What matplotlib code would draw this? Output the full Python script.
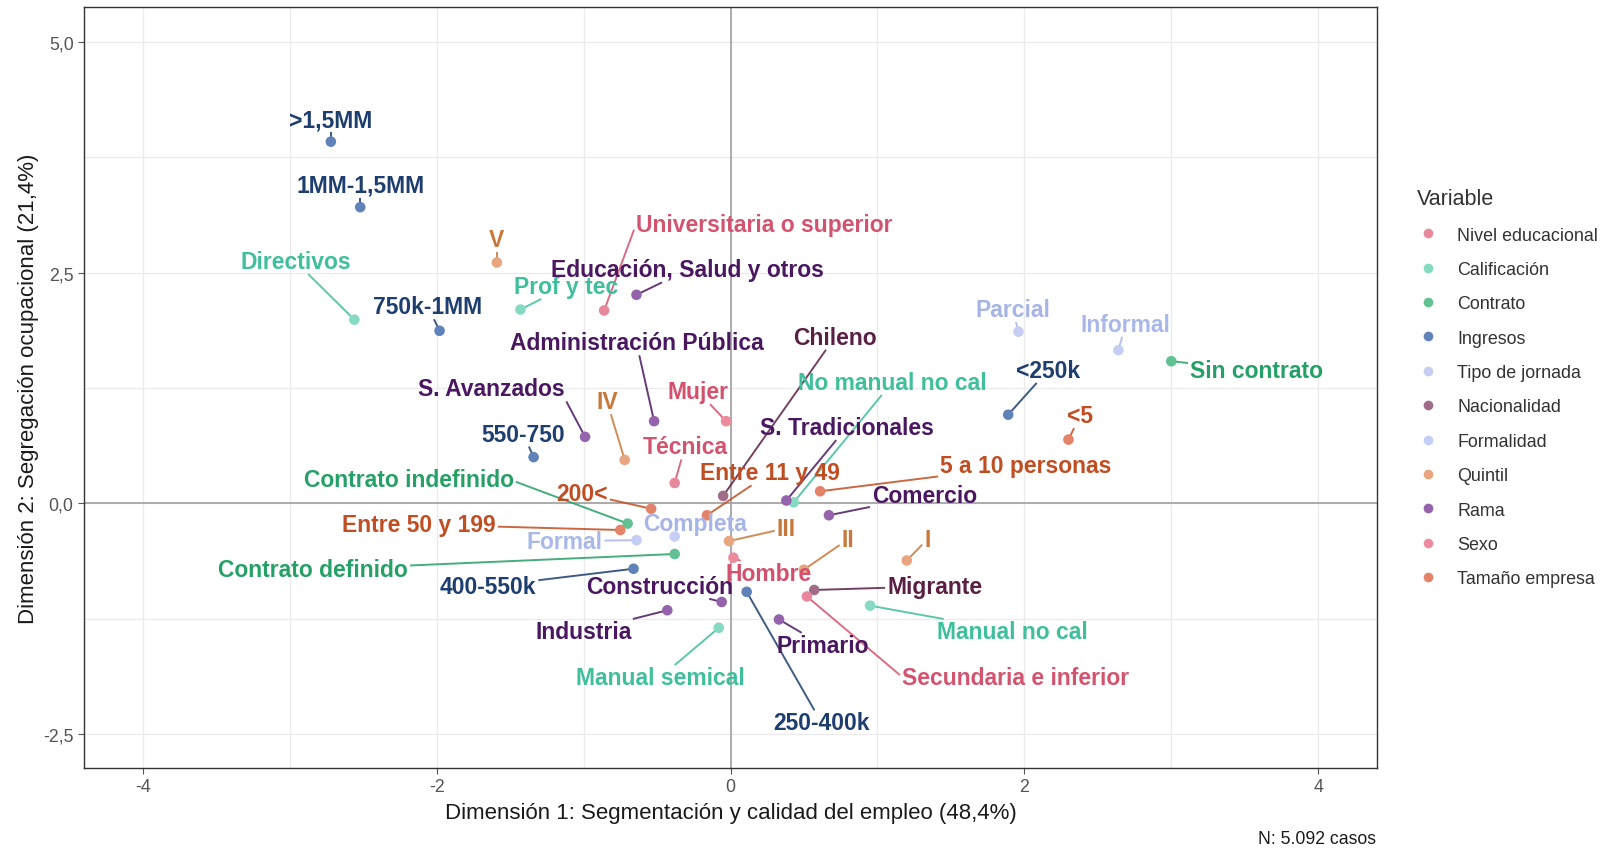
import numpy as np
import matplotlib
matplotlib.use("Agg")
import matplotlib.pyplot as plt
from matplotlib.ticker import MultipleLocator, FuncFormatter
from matplotlib.lines import Line2D

plt.rcParams['font.family'] = ['Liberation Sans', 'DejaVu Sans']

# categories of the legend, in order
groups = ["Nivel educacional", "Calificación", "Contrato", "Ingresos", "Tipo de jornada",
          "Nacionalidad", "Formalidad", "Quintil", "Rama", "Sexo", "Tamaño empresa"]

# category labels, their variable, and the coordinates on the two dimensions
labels = [">1,5MM", "1MM-1,5MM", "750k-1MM", "550-750", "400-550k", "250-400k", "<250k",
          "Directivos", "Prof y tec", "No manual no cal", "Manual no cal", "Manual semical",
          "Sin contrato", "Contrato indefinido", "Contrato definido",
          "Parcial", "Completa",
          "Informal", "Formal",
          "Chileno", "Migrante",
          "V", "IV", "III", "II", "I",
          "Educación, Salud y otros", "Administración Pública", "S. Avanzados",
          "S. Tradicionales", "Comercio", "Construcción", "Industria", "Primario",
          "Universitaria o superior", "Técnica", "Secundaria e inferior",
          "Mujer", "Hombre",
          "<5", "5 a 10 personas", "Entre 11 y 49", "200<", "Entre 50 y 199"]
variable = (["Ingresos"] * 7 + ["Calificación"] * 5 + ["Contrato"] * 3
            + ["Tipo de jornada"] * 2 + ["Formalidad"] * 2 + ["Nacionalidad"] * 2
            + ["Quintil"] * 5 + ["Rama"] * 8 + ["Nivel educacional"] * 3
            + ["Sexo"] * 2 + ["Tamaño empresa"] * 5)
dim1 = [-2.72, -2.52, -1.98, -1.34, -0.66, 0.11, 1.89,
        -2.56, -1.43, 0.43, 0.95, -0.08,
        3.00, -0.70, -0.38,
        1.96, -0.38,
        2.64, -0.64,
        -0.05, 0.57,
        -1.59, -0.72, -0.01, 0.50, 1.20,
        -0.64, -0.52, -0.99, 0.38, 0.67, -0.06, -0.43, 0.33,
        -0.86, -0.38, 0.52,
        -0.03, 0.02,
        2.30, 0.61, -0.16, -0.54, -0.75]
dim2 = [3.92, 3.21, 1.87, 0.50, -0.71, -0.96, 0.96,
        1.99, 2.10, 0.01, -1.11, -1.35,
        1.54, -0.22, -0.55,
        1.86, -0.36,
        1.66, -0.40,
        0.08, -0.94,
        2.61, 0.47, -0.41, -0.72, -0.62,
        2.26, 0.89, 0.72, 0.03, -0.13, -1.07, -1.16, -1.26,
        2.09, 0.22, -1.01,
        0.89, -0.59,
        0.69, 0.13, -0.13, -0.06, -0.29]

# where the repelled labels sit (data coords)
label_pos = [(-2.72, 4.16), (-2.52, 3.45), (-2.06, 2.13), (-1.41, 0.75), (-1.65, -0.90),
             (0.62, -2.38), (2.16, 1.44),
             (-2.96, 2.62), (-1.12, 2.35), (1.10, 1.31), (1.92, -1.39), (-0.48, -1.89),
             (3.58, 1.44), (-2.19, 0.26), (-2.84, -0.72),
             (1.92, 2.10), (-0.24, -0.22),
             (2.69, 1.94), (-1.13, -0.41),
             (0.71, 1.80), (1.39, -0.90),
             (-1.59, 2.86), (-0.84, 1.10), (0.38, -0.27), (0.80, -0.39), (1.34, -0.39),
             (-0.29, 2.53), (-0.64, 1.74), (-1.63, 1.24), (0.79, 0.82), (1.32, 0.08),
             (-0.48, -0.90), (-1.00, -1.39), (0.63, -1.54),
             (0.23, 3.02), (-0.31, 0.61), (1.94, -1.89),
             (-0.22, 1.21), (0.26, -0.76),
             (2.38, 0.95), (2.01, 0.41), (0.27, 0.33), (-1.01, 0.11), (-2.12, -0.23)]

# labels whose segment joins a side/corner instead of heading to the centre
attach = {"Universitaria o superior": (-1, -0.4), "S. Avanzados": (1, -1),
          "Contrato indefinido": (1, -0.2), "Secundaria e inferior": (-1, 0.2)}

point_col = {"Nivel educacional": "#e8889c", "Calificación": "#86d9c2", "Contrato": "#62c193",
             "Ingresos": "#5f82b8", "Tipo de jornada": "#c6cff1", "Nacionalidad": "#a06c88",
             "Formalidad": "#c3cef3", "Quintil": "#e7a67f", "Rama": "#9563ab",
             "Sexo": "#ec8b9d", "Tamaño empresa": "#e3836a"}
text_col = {"Nivel educacional": "#d2546f", "Calificación": "#3fbf9c", "Contrato": "#25a066",
            "Ingresos": "#1d3e6e", "Tipo de jornada": "#a7b5e6", "Nacionalidad": "#5a1f45",
            "Formalidad": "#a9b8e8", "Quintil": "#c8783a", "Rama": "#4a1860",
            "Sexo": "#d4506c", "Tamaño empresa": "#c04e22"}

W, H = 1610, 853
fig = plt.figure(figsize=(W / 100, H / 100), dpi=100)
ax = fig.add_axes([84 / W, 1 - 769 / H, (1377 - 84) / W, (769 - 8) / H])

ax.set_xlim(-4.40, 4.40)
ax.set_ylim(-2.87, 5.38)
ax.xaxis.set_major_locator(MultipleLocator(2))
ax.xaxis.set_minor_locator(MultipleLocator(1))
ax.yaxis.set_major_locator(MultipleLocator(2.5))
ax.yaxis.set_minor_locator(MultipleLocator(1.25))
ax.xaxis.set_major_formatter(FuncFormatter(lambda v, p: f"{v:.0f}"))
ax.yaxis.set_major_formatter(FuncFormatter(lambda v, p: f"{v:.1f}".replace(".", ",")))
ax.grid(which="both", color="#ebebeb", lw=0.9, zorder=0)
ax.set_axisbelow(True)
ax.axhline(0, color="#a6a6a6", lw=1.3, zorder=1)
ax.axvline(0, color="#a6a6a6", lw=1.3, zorder=1)
for s in ax.spines.values():
    s.set_color("#333333")
    s.set_linewidth(1.0)
ax.tick_params(which="major", length=4, color="#555555", labelcolor="#555555", labelsize=12.8)
ax.tick_params(which="minor", length=0)

ax.set_xlabel("Dimensión 1: Segmentación y calidad del empleo (48,4%)", fontsize=16,
              color="#1a1a1a", labelpad=5)
ax.set_ylabel("Dimensión 2: Segregación ocupacional (21,4%)", fontsize=16,
              color="#1a1a1a", labelpad=3)

# points
for i in range(len(labels)):
    ax.scatter(dim1[i], dim2[i], s=58, color=point_col[variable[i]], zorder=4,
               edgecolors="none")

# labels
texts = []
for i in range(len(labels)):
    t = ax.text(label_pos[i][0], label_pos[i][1], labels[i], ha="center", va="center",
                fontsize=16.5, fontweight="bold", color=text_col[variable[i]], zorder=5)
    texts.append(t)

fig.canvas.draw()
renderer = fig.canvas.get_renderer()
inv = ax.transData.inverted()
for i, t in enumerate(texts):
    bb = t.get_window_extent(renderer)
    cx, cy = (bb.x0 + bb.x1) / 2, (bb.y0 + bb.y1) / 2
    hw, hh = bb.width / 2 + 2, bb.height / 2 + 1
    px, py = ax.transData.transform((dim1[i], dim2[i]))
    if labels[i] in attach:
        fx, fy = attach[labels[i]]
        ex, ey = cx + fx * hw, cy + fy * hh
    else:
        dx, dy = px - cx, py - cy
        tt = min(hw / abs(dx) if dx != 0 else np.inf, hh / abs(dy) if dy != 0 else np.inf)
        if tt >= 1:
            continue
        ex, ey = cx + tt * dx, cy + tt * dy
    if np.hypot(px - ex, py - ey) < 5:
        continue
    (x0, y0), (x1, y1) = inv.transform([(px, py), (ex, ey)])
    ax.plot([x0, x1], [y0, y1], color=text_col[variable[i]], lw=1.4, alpha=0.85,
            zorder=3, solid_capstyle="butt")

handles = [Line2D([], [], ls="none", marker="o", ms=7, color=point_col[g], mec="none")
           for g in groups]
leg = fig.legend(handles, groups, loc="upper left", bbox_to_anchor=(1401 / W, 1 - 173 / H),
                 frameon=False, title="Variable", fontsize=12.9, title_fontsize=15.5,
                 labelspacing=0.97, handletextpad=1.03, handlelength=1.2)
leg._legend_box.align = "left"
for t in leg.get_texts():
    t.set_color("#333333")
leg.get_title().set_color("#333333")

fig.text(1376 / W, 1 - 840 / H, "N: 5.092 casos", ha="right", va="center",
         fontsize=12.7, color="#1a1a1a")

fig.savefig("out.png", dpi=100)
